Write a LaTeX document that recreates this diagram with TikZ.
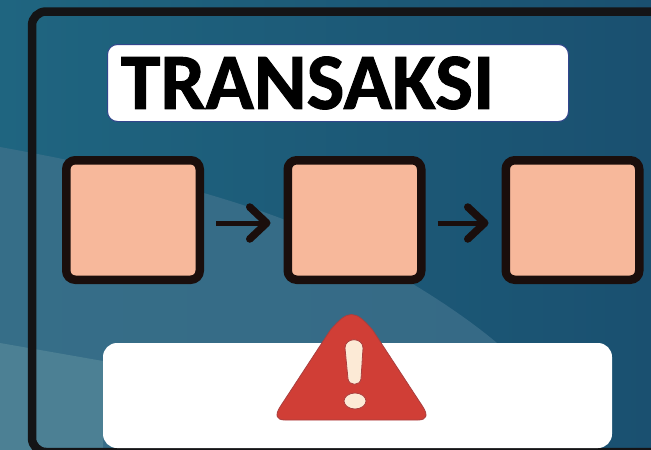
\documentclass[tikz,border=0pt]{standalone}
\usepackage{fontspec}
\setmainfont{Carlito}
\newfontfamily\titlefont{Carlito}[BoldFeatures={FakeBold=1.2}]
\usetikzlibrary{arrows.meta}
\definecolor{bgleft}{RGB}{31,101,128}
\definecolor{bgright}{RGB}{26,80,112}
\definecolor{waveleft}{RGB}{54,110,136}
\definecolor{waveright}{RGB}{54,106,134}
\definecolor{bandcol}{RGB}{76,128,148}
\definecolor{framecol}{RGB}{20,20,22}
\definecolor{boxfill}{RGB}{247,184,155}
\definecolor{boxline}{RGB}{26,14,12}
\definecolor{titleline}{RGB}{50,70,140}
\definecolor{warnred}{RGB}{208,62,54}
\definecolor{warnedge}{RGB}{170,62,62}
\definecolor{warnmark}{RGB}{252,234,214}
\tikzset{
	stepbox/.style={draw=boxline, fill=boxfill, line width=8.5pt, rounded corners=9pt, minimum width=133.5pt, minimum height=119.5pt, inner sep=0pt},
	steparrow/.style={draw=boxline, line width=5pt, shorten <=12pt, shorten >=13pt, -{Straight Barb[length=17pt,width=32pt,line width=7.5pt,round]}},
}
\begin{document}
\begin{tikzpicture}[x=1pt, y=-1pt]
	\useasboundingbox (0,0) rectangle (651,450);

	% --- Background ---
	\begin{scope}
		\clip (0,0) rectangle (651,450);
		\shade[left color=bgleft, right color=bgright] (0,0) rectangle (651,450);
		\shade[left color=waveleft, right color=waveright]
			(0,147) .. controls (100,165) and (200,188) .. (280,218)
			.. controls (350,245) and (440,295) .. (497,343) -- (497,450) -- (0,450) -- cycle;
		\fill[bandcol] (0,343) -- (103,361) -- (103,450) -- (0,450) -- cycle;
	\end{scope}

	% --- Outer frame ---
	\draw[framecol, line width=8.5pt, rounded corners=14pt] (700,11.5) -- (32,11.5) -- (32,452) -- (700,452);

	% --- Title ---
	\node[draw=titleline, fill=white, line width=1pt, rounded corners=10pt, minimum width=461pt, minimum height=77pt, inner sep=0pt] (titlebox) at (338,83) {};
	\node[font=\fontsize{80}{80}\titlefont\bfseries, inner sep=0pt] (titletext) at (307.5,83) {TRANSAKSI};

	% --- Steps ---
	\node[stepbox] (boxa) at (133,220) {};
	\node[stepbox] (boxb) at (354.5,220) {};
	\node[stepbox] (boxc) at (572.5,220) {};
	\draw[steparrow] ([yshift=-3pt]boxa.east) -- ([yshift=-3pt]boxb.west);
	\draw[steparrow] ([yshift=-3pt]boxb.east) -- ([yshift=-3pt]boxc.west);

	% --- Warning ---
	\node[fill=white, rounded corners=14pt, minimum width=509pt, minimum height=105pt, inner sep=0pt] (warnbox) at (357.5,395.5) {};
	\fill[warnred, draw=warnedge, line width=0.8pt] (351.5,314.5)
		.. controls (358,314.5) and (364,320) .. (372.6,330) -- (423,407)
		.. controls (428,415) and (427,420) .. (418,420) -- (285,420)
		.. controls (276,420) and (275,415) .. (280,407) -- (330.4,330)
		.. controls (339,320) and (345,314.5) .. (351.5,314.5) -- cycle;
	\fill[warnmark, draw=warnedge, line width=0.8pt] (345,348)
		.. controls (345,337) and (363,337) .. (363,348) -- (361,379)
		.. controls (360,386) and (349,386) .. (348,379) -- cycle;
	\fill[warnmark, draw=warnedge, line width=0.8pt] (355,401) ellipse (11pt and 8pt);
\end{tikzpicture}
\end{document}
